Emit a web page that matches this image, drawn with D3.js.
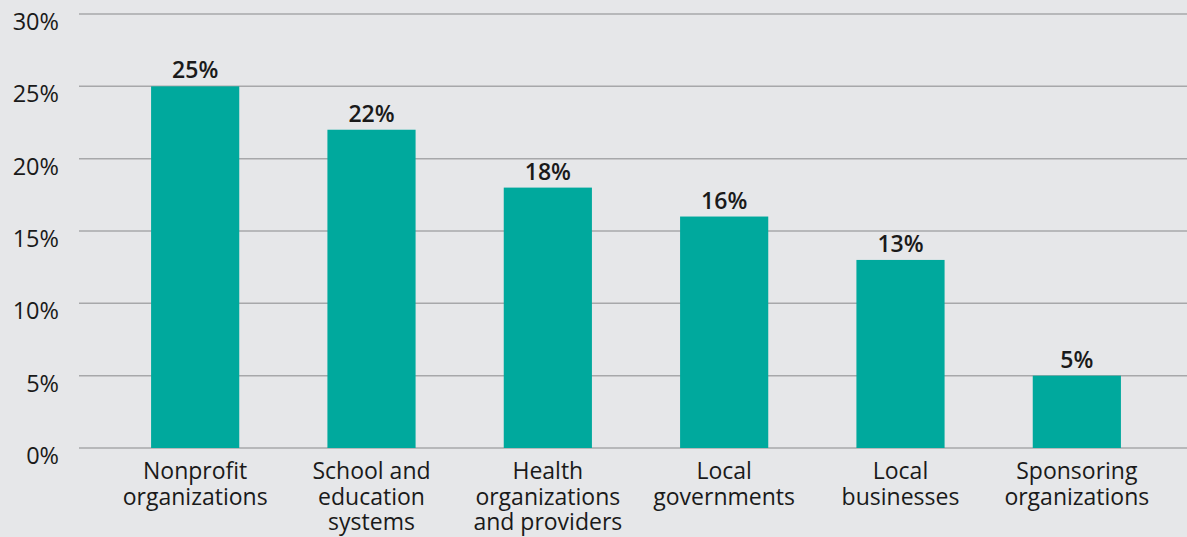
<!DOCTYPE html>
<html>
<head>
<meta charset="utf-8">
<script src="https://cdn.jsdelivr.net/npm/d3@7/dist/d3.min.js"></script>
<style>
  html, body { margin: 0; padding: 0; background: #e6e7e9; }
  svg { display: block; }
  text { font-family: "Open Sans", "Noto Sans", sans-serif; fill: #1a1a1a; }
</style>
</head>
<body>
<svg id="chart" width="1187" height="537"></svg>
<script>
// Share of partner types
const categories = [
  ["Nonprofit", "organizations"],
  ["School and", "education", "systems"],
  ["Health", "organizations", "and providers"],
  ["Local", "governments"],
  ["Local", "businesses"],
  ["Sponsoring", "organizations"]
];
const values = [25, 22, 18, 16, 13, 5];
const yTicks = [0, 5, 10, 15, 20, 25, 30];

const svg = d3.select("#chart");
const gridLeft = 79, gridRight = 1187;
const plotTop = 14, plotBottom = 448;

const x = d3.scaleBand()
  .domain(d3.range(values.length))
  .range([107, 1165])
  .paddingInner(0.5)
  .paddingOuter(0.25);

const y = d3.scaleLinear().domain([0, 30]).range([plotBottom, plotTop]);

// gridlines
svg.append("g")
  .selectAll("line")
  .data(yTicks)
  .join("line")
  .attr("x1", gridLeft).attr("x2", gridRight)
  .attr("y1", d => y(d)).attr("y2", d => y(d))
  .attr("stroke", "#a7a8aa")
  .attr("stroke-width", 1.5);

// y tick labels
svg.append("g")
  .selectAll("text")
  .data(yTicks)
  .join("text")
  .attr("x", 59)
  .attr("y", d => y(d) + 16)
  .attr("text-anchor", "end")
  .attr("font-size", 23.5)
  .text(d => d + "%");

// bars
svg.append("g")
  .selectAll("rect")
  .data(values)
  .join("rect")
  .attr("x", (d, i) => x(i))
  .attr("width", x.bandwidth())
  .attr("y", d => y(d))
  .attr("height", d => y(0) - y(d))
  .attr("fill", "#00a99d");

// value labels
svg.append("g")
  .selectAll("text")
  .data(values)
  .join("text")
  .attr("x", (d, i) => x(i) + x.bandwidth() / 2)
  .attr("y", d => y(d) - 8)
  .attr("text-anchor", "middle")
  .attr("font-size", 23)
  .attr("font-weight", 600)
  .text(d => d + "%");

// category labels
const cat = svg.append("g")
  .selectAll("text")
  .data(categories)
  .join("text")
  .attr("x", (d, i) => x(i) + x.bandwidth() / 2)
  .attr("y", plotBottom + 31)
  .attr("text-anchor", "middle")
  .attr("font-size", 23);
cat.selectAll("tspan")
  .data((d, i) => d.map(t => ({ t, i })))
  .join("tspan")
  .attr("x", d => x(d.i) + x.bandwidth() / 2)
  .attr("dy", (d, j) => j === 0 ? 0 : 25.5)
  .text(d => d.t);
</script>
</body>
</html>
